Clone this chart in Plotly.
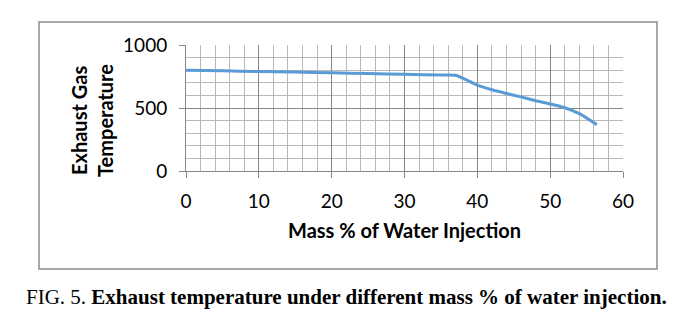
import plotly.graph_objects as go

# Data
mass_pct = [0, 5, 10, 15, 20, 25, 30, 35, 37, 40, 42, 44, 46, 48, 50, 52, 54, 56.4]
exhaust_temp = [800, 795, 790, 785, 779, 773, 767, 762, 760, 682, 645, 615, 588, 558, 532, 502, 455, 368]

x_ticks = [0, 10, 20, 30, 40, 50, 60]
y_ticks = [0, 500, 1000]

x_title = "Mass % of Water Injection"
y_title_lines = ["Exhaust Gas", "Temperature"]
caption_prefix = "FIG. 5."
caption_text = "Exhaust temperature under different mass % of water injection."

MAJOR = "#878787"
MINOR = "#b9b9b9"
TICK_FONT = dict(family="Lato, Open Sans, sans-serif", size=19, color="#000000")
TITLE_FONT = dict(family="Lato, Open Sans, sans-serif", size=20, color="#000000")

fig = go.Figure()
fig.add_trace(go.Scatter(
    x=mass_pct, y=exhaust_temp, mode="lines",
    line=dict(color="#5b9bd5", width=3, shape="spline", smoothing=0.6),
    showlegend=False, hoverinfo="x+y",
))

L, R, T, B = 186, 65, 45, 158
W, H = 688, 329
pw = W - L - R
ph = H - T - B

def px_x(px):
    return (px - L) / pw

def px_y(py):
    return (H - B - py) / ph

fig.update_layout(
    width=W, height=H,
    margin=dict(l=L, r=R, t=T, b=B),
    paper_bgcolor="white", plot_bgcolor="white",
    xaxis=dict(
        range=[0, 60], tickmode="linear", tick0=x_ticks[0], dtick=x_ticks[1] - x_ticks[0],
        showgrid=True, gridcolor=MAJOR, gridwidth=1,
        minor=dict(tickmode="linear", tick0=0, dtick=2, showgrid=True,
                   gridcolor=MINOR, gridwidth=1, ticks=""),
        showline=True, linecolor=MAJOR, linewidth=1,
        ticks="outside", ticklen=6, tickcolor=MAJOR, tickwidth=1,
        tickfont=TICK_FONT, ticklabelstandoff=7, zeroline=False, fixedrange=True,
    ),
    yaxis=dict(
        range=[0, 1000], tickmode="linear", tick0=y_ticks[0], dtick=y_ticks[1] - y_ticks[0],
        showgrid=True, gridcolor=MAJOR, gridwidth=1,
        minor=dict(tickmode="linear", tick0=0, dtick=100, showgrid=True,
                   gridcolor=MINOR, gridwidth=1, ticks=""),
        showline=True, linecolor=MAJOR, linewidth=1,
        ticks="outside", ticklen=6, tickcolor=MAJOR, tickwidth=1,
        tickfont=TICK_FONT, ticklabelstandoff=8, zeroline=False, fixedrange=True,
    ),
    shapes=[dict(
        type="rect", xref="paper", yref="paper",
        x0=px_x(39), x1=px_x(657), y0=px_y(269), y1=px_y(22),
        line=dict(color="#8a8a8a", width=1.5), fillcolor="rgba(0,0,0,0)", layer="below",
    )],
    annotations=[
        dict(text=f"<b>{x_title}</b>", xref="paper", yref="paper",
             x=px_x(404), y=px_y(230), showarrow=False, font=TITLE_FONT,
             xanchor="center", yanchor="middle"),
        dict(text=f"<b>{y_title_lines[0]}</b>", xref="paper", yref="paper",
             x=px_x(79), y=px_y(121), showarrow=False, font=TITLE_FONT,
             textangle=-90, xanchor="center", yanchor="middle"),
        dict(text=f"<b>{y_title_lines[1]}</b>", xref="paper", yref="paper",
             x=px_x(105), y=px_y(121), showarrow=False, font=TITLE_FONT,
             textangle=-90, xanchor="center", yanchor="middle"),
        dict(text=f"{caption_prefix} <b>{caption_text}</b>", xref="paper", yref="paper",
             x=px_x(346), y=px_y(297), showarrow=False,
             font=dict(family="Liberation Serif, Times New Roman, serif", size=21, color="#000000"),
             xanchor="center", yanchor="middle"),
    ],
)

fig.write_html("out.html", config={"displayModeBar": False})
